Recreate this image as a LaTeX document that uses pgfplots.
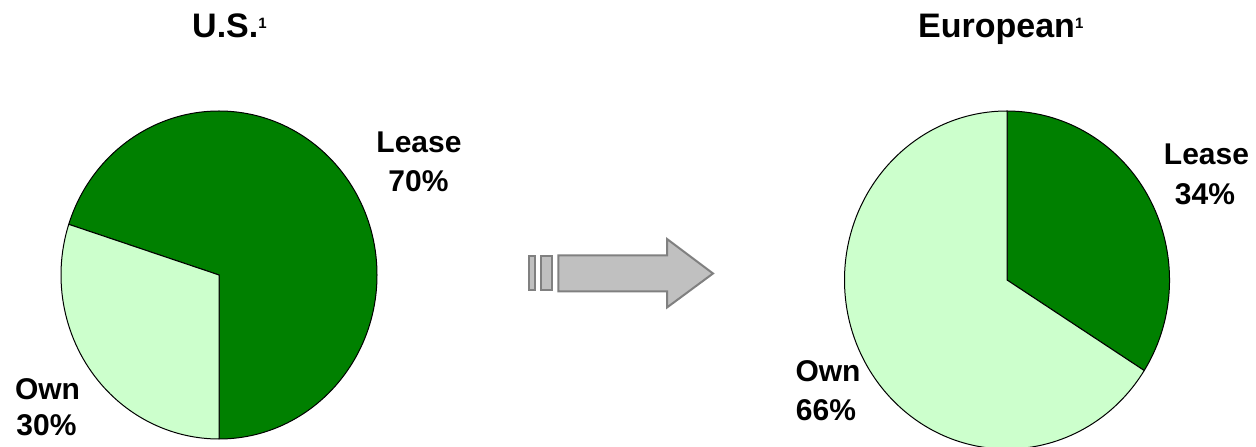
\documentclass[border=0pt]{standalone}
\usepackage{pgfplots}
\pgfplotsset{compat=1.18}
\usepackage{fontspec}
\setmainfont{Liberation Sans}
\definecolor{darkgreen}{RGB}{0,128,0}
\definecolor{lightgreen}{RGB}{204,255,204}
\definecolor{arrowfill}{RGB}{192,192,192}
\definecolor{arrowline}{RGB}{128,128,128}
% data (percent)
\def\usLease{70}\def\usOwn{30}
\def\euLease{34}\def\euOwn{66}
\begin{document}
\begin{tikzpicture}
\pgfmathsetmacro{\usB}{-90+3.6*\usLease}
\pgfmathsetmacro{\usE}{\usB+3.6*\usOwn}
\pgfmathsetmacro{\euA}{90-3.6*\euLease}
\pgfmathsetmacro{\euE}{90+3.6*\euOwn}
\begin{axis}[name=ax,x=1pt,y=1pt,xmin=0,xmax=1256,ymin=0,ymax=447,hide axis,clip=true,
  anchor=south west,at={(0,0)}]
% U.S. pie
\filldraw[fill=darkgreen,draw=black,line width=1pt,line join=round]
  (axis cs:219,172) -- ++(-90:158pt and 164pt)
  arc[start angle=-90,end angle=\usB,x radius=158pt,y radius=164pt] -- cycle;
\filldraw[fill=lightgreen,draw=black,line width=1pt,line join=round]
  (axis cs:219,172) -- ++(\usB:158pt and 164pt)
  arc[start angle=\usB,end angle=\usE,x radius=158pt,y radius=164pt] -- cycle;
% European pie
\filldraw[fill=darkgreen,draw=black,line width=1pt,line join=round]
  (axis cs:1007,167) -- ++(\euA:162.5pt and 169pt)
  arc[start angle=\euA,end angle=90,x radius=162.5pt,y radius=169pt] -- cycle;
\filldraw[fill=lightgreen,draw=black,line width=1pt,line join=round]
  (axis cs:1007,167) -- ++(90:162.5pt and 169pt)
  arc[start angle=90,end angle=\euE,x radius=162.5pt,y radius=169pt] -- cycle;
% arrow
\addplot[fill=arrowfill,draw=arrowline,line width=2pt]
  coordinates {(529.3,156.5) (535,156.5) (535,190.5) (529.3,190.5)} -- cycle;
\addplot[fill=arrowfill,draw=arrowline,line width=2pt]
  coordinates {(541,156.5) (552.3,156.5) (552.3,190.5) (541,190.5)} -- cycle;
\addplot[fill=arrowfill,draw=arrowline,line width=2pt,line join=miter]
  coordinates {(558.3,155.5) (667,155.5) (667,139.5) (713,173.5) (667,208) (667,191.5) (558.3,191.5)} -- cycle;
% titles
\node[anchor=base west,font=\bfseries\fontsize{34}{40}\selectfont,inner sep=0pt]
  at (axis cs:192,409.7) {U.S.\raisebox{9pt}{\fontsize{15}{15}\selectfont 1}};
\node[anchor=base west,font=\bfseries\fontsize{34}{40}\selectfont,inner sep=0pt]
  at (axis cs:918,409.7) {European\raisebox{9pt}{\fontsize{15}{15}\selectfont 1}};
% labels
\tikzset{lbl/.style={anchor=base,font=\bfseries\fontsize{30}{36}\selectfont,inner sep=0pt}}
\node[lbl] at (axis cs:419,294.3) {Lease};
\node[lbl] at (axis cs:418.5,255.3) {\usLease\%};
\node[lbl] at (axis cs:47.5,47) {Own};
\node[lbl] at (axis cs:46.5,11) {\usOwn\%};
\node[lbl] at (axis cs:1206.5,282) {Lease};
\node[lbl] at (axis cs:1205,242) {\euLease\%};
\node[lbl] at (axis cs:828,65.3) {Own};
\node[lbl] at (axis cs:826,26) {\euOwn\%};
\end{axis}
\pgfresetboundingbox
\path[use as bounding box] (0,0) rectangle (1256pt,447pt);
\end{tikzpicture}
\end{document}
